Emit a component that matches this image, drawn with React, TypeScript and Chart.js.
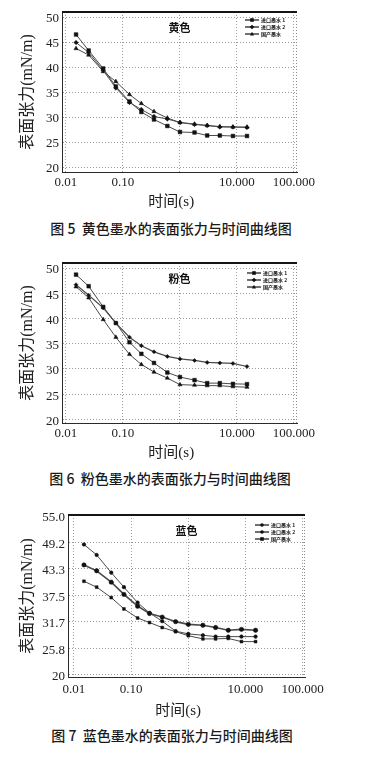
import React, { useEffect, useRef } from "react";
import { Chart, registerables } from "chart.js";

Chart.register(...registerables);

// ---------- data ----------
const times = [0.015, 0.025, 0.045, 0.075, 0.13, 0.21, 0.35, 0.6, 1.0, 1.8, 3.0, 5.0, 8.5, 15];
const seriesNames = ["进口墨水 1", "进口墨水 2", "国产墨水"];

const xTickValues = [0.01, 0.1, 1, 10, 100];
const xTickLabels = ["0.01", "0.10", "", "10.000", "100.000"];

const yellowInk1 = [46.5, 43.3, 39.7, 36.1, 33.1, 31.0, 29.5, 28.2, 27.0, 26.9, 26.3, 26.3, 26.2, 26.2];
const yellowInk2 = [44.9, 42.9, 39.3, 35.8, 32.9, 31.5, 30.1, 29.6, 28.9, 28.5, 28.3, 28.0, 28.0, 27.9];
const yellowDomestic = [43.7, 42.4, 39.1, 37.1, 34.5, 32.7, 31.1, 29.8, 28.9, 28.6, 28.3, 28.1, 28.0, 28.0];

const pinkInk1 = [48.7, 46.4, 42.3, 39.1, 35.3, 33.0, 31.2, 29.3, 28.4, 27.8, 27.2, 27.2, 27.05, 27.0];
const pinkInk2 = [46.7, 44.6, 42.1, 39.1, 36.3, 34.6, 33.4, 32.5, 32.0, 31.7, 31.3, 31.2, 31.1, 30.5];
const pinkDomestic = [46.3, 44.1, 39.8, 36.3, 32.9, 30.9, 29.4, 28.2, 26.9, 26.8, 26.7, 26.7, 26.5, 26.4];

const blueInk1 = [48.7, 46.4, 42.5, 39.3, 35.9, 33.6, 31.8, 29.6, 29.0, 28.7, 28.4, 28.4, 28.4, 28.4];
const blueInk2 = [44.2, 42.9, 40.4, 37.7, 35.1, 33.5, 32.7, 31.7, 31.1, 30.9, 30.4, 29.8, 30.0, 29.8];
const blueDomestic = [40.6, 39.3, 37.0, 34.5, 32.5, 31.5, 30.4, 29.5, 28.6, 27.9, 27.9, 28.0, 27.3, 27.3];

const yTicksStd = [20, 25, 30, 35, 40, 45, 50];
const yTickLabelsStd = ["20", "25", "30", "35", "40", "45", "50"];
const yTicksBlue = [20, 25.8333, 31.6667, 37.5, 43.3333, 49.1667, 55];
const yTickLabelsBlue = ["20", "25.8", "31.7", "37.5", "43.3", "49.2", "55.0"];

const yTitle = "表面张力(mN/m)";
const xTitle = "时间(s)";

// ---------- figure layouts ----------
const SERIF = "'Liberation Serif', 'Noto Sans CJK SC', serif";
const CJK = "'Noto Sans CJK SC', sans-serif";

type Fig = {
  top: number;
  height: number;
  pad: { top: number; right: number; bottom: number; left: number };
  yW: number;
  xH: number;
  xMin: number;
  xMax: number;
  yMin: number;
  yMax: number;
  yTicks: number[];
  yLabels: string[];
  title: string;
  series: number[][];
  styles: string[];
  radii: number[];
  widths: number[];
  xTickPad: number;
  xTitleY: number;
  legendTop: number;
  legendRight: number;
  caption: string;
  captionY: number;
  captionW: number;
};

const figs: Fig[] = [
  {
    top: 0, height: 215,
    pad: { top: 12, right: 69, bottom: 3, left: 0 },
    yW: 62, xH: 40,
    xMin: 0.00851, xMax: 113, yMin: 19, yMax: 51,
    yTicks: yTicksStd, yLabels: yTickLabelsStd,
    title: "黄色",
    series: [yellowInk1, yellowInk2, yellowDomestic],
    styles: ["rect", "rectRot", "triangle"],
    radii: [2.6, 2.2, 2.4],
    widths: [1, 1, 1],
    xTickPad: 3, xTitleY: 202,
    legendTop: 8, legendRight: 52,
    caption: "图 5  黄色墨水的表面张力与时间曲线图",
    captionY: 228, captionW: 342,
  },
  {
    top: 250, height: 215,
    pad: { top: 13, right: 69, bottom: 2, left: 0 },
    yW: 62, xH: 40,
    xMin: 0.00851, xMax: 113, yMin: 19.3, yMax: 51,
    yTicks: yTicksStd, yLabels: yTickLabelsStd,
    title: "粉色",
    series: [pinkInk1, pinkInk2, pinkDomestic],
    styles: ["rect", "rectRot", "triangle"],
    radii: [2.6, 2.0, 2.4],
    widths: [1, 1.2, 1],
    xTickPad: 3, xTitleY: 203,
    legendTop: 10, legendRight: 50,
    caption: "图 6  粉色墨水的表面张力与时间曲线图",
    captionY: 228, captionW: 340,
  },
  {
    top: 500, height: 222,
    pad: { top: 15, right: 61, bottom: 0, left: 0 },
    yW: 68, xH: 45,
    xMin: 0.00789, xMax: 109.7, yMin: 19.5, yMax: 55.2,
    yTicks: yTicksBlue, yLabels: yTickLabelsBlue,
    title: "蓝色",
    series: [blueInk1, blueInk2, blueDomestic],
    styles: ["circle", "circle", "rect"],
    radii: [1.8, 2.2, 2.0],
    widths: [1, 1.6, 1],
    xTickPad: 5, xTitleY: 211,
    legendTop: 10, legendRight: 50,
    caption: "图 7  蓝色墨水的表面张力与时间曲线图",
    captionY: 235, captionW: 344,
  },
];

// ---------- helpers ----------
function drawMarker(ctx: CanvasRenderingContext2D, style: string, x: number, y: number, r: number) {
  ctx.beginPath();
  if (style === "rect") {
    ctx.rect(x - r, y - r, 2 * r, 2 * r);
  } else if (style === "rectRot") {
    ctx.moveTo(x, y - r * 1.3);
    ctx.lineTo(x + r * 1.3, y);
    ctx.lineTo(x, y + r * 1.3);
    ctx.lineTo(x - r * 1.3, y);
    ctx.closePath();
  } else if (style === "triangle") {
    ctx.moveTo(x, y - r * 1.2);
    ctx.lineTo(x + r * 1.1, y + r * 0.8);
    ctx.lineTo(x - r * 1.1, y + r * 0.8);
    ctx.closePath();
  } else {
    ctx.arc(x, y, r, 0, Math.PI * 2);
  }
  ctx.fill();
}

const decorPlugin = {
  id: "decor",
  afterDraw(chart: any, _args: any, opts: any) {
    const { ctx, chartArea: ca } = chart;
    ctx.save();
    // right dotted frame
    ctx.strokeStyle = "#8a8a8a";
    ctx.lineWidth = 1;
    ctx.setLineDash([1, 2]);
    ctx.beginPath();
    ctx.moveTo(ca.right - 0.5, ca.top);
    ctx.lineTo(ca.right - 0.5, ca.bottom);
    ctx.stroke();
    ctx.setLineDash([]);
    // top frame
    ctx.strokeStyle = "#151515";
    ctx.lineWidth = 2;
    ctx.beginPath();
    ctx.moveTo(ca.left, ca.top);
    ctx.lineTo(ca.right, ca.top);
    ctx.stroke();
    // inner title
    ctx.fillStyle = "#111";
    ctx.textAlign = "center";
    ctx.textBaseline = "middle";
    ctx.font = `bold 11px ${CJK}`;
    ctx.fillText(opts.title, (ca.left + ca.right) / 2, ca.top + 15.5);
    // x axis title
    ctx.fillStyle = "#222";
    ctx.font = `15px ${SERIF}`;
    ctx.fillText(opts.xTitle, ca.left + (ca.right - ca.left) * 0.465, opts.xTitleY);
    // legend
    const ds = chart.data.datasets;
    ds.forEach((d: any, i: number) => {
      const y = ca.top + opts.legendTop + i * 7;
      const x0 = ca.right - opts.legendRight;
      ctx.strokeStyle = "#111";
      ctx.lineWidth = 1.2;
      ctx.beginPath();
      ctx.moveTo(x0, y);
      ctx.lineTo(x0 + 14, y);
      ctx.stroke();
      ctx.fillStyle = "#111";
      drawMarker(ctx, d.pointStyle, x0 + 7, y, 1.8);
      ctx.font = `bold 5px ${CJK}`;
      ctx.textAlign = "left";
      ctx.textBaseline = "middle";
      ctx.fillText(d.label, x0 + 16, y);
    });
    ctx.restore();
  },
};

function FigureChart({ fig }: { fig: Fig }) {
  const ref = useRef<HTMLCanvasElement | null>(null);
  useEffect(() => {
    if (!ref.current) return;
    const datasets = fig.series.map((vals, si) => ({
      label: seriesNames[si],
      data: times.map((t, i) => ({ x: t, y: vals[i] })),
      borderColor: "#4a4a4a",
      borderWidth: fig.widths[si],
      pointStyle: fig.styles[si],
      pointRadius: fig.radii[si],
      pointBackgroundColor: "#111",
      pointBorderColor: "#111",
      pointBorderWidth: 0.5,
      tension: 0,
      fill: false,
    }));
    const gridCommon = { color: "#9a9a9a", lineWidth: 1, drawTicks: false };
    const chart = new Chart(ref.current, {
      type: "line",
      data: { datasets },
      plugins: [decorPlugin],
      options: {
        animation: false,
        responsive: false,
        maintainAspectRatio: false,
        devicePixelRatio: 1,
        layout: { padding: fig.pad },
        plugins: {
          legend: { display: false },
          tooltip: { enabled: false },
          decor: {
            title: fig.title,
            xTitle,
            xTitleY: fig.xTitleY,
            legendTop: fig.legendTop,
            legendRight: fig.legendRight,
          },
        } as any,
        scales: {
          x: {
            type: "logarithmic",
            min: fig.xMin,
            max: fig.xMax,
            afterBuildTicks: (s: any) => {
              s.ticks = xTickValues.map((v) => ({ value: v }));
            },
            afterFit: (s: any) => {
              s.height = fig.xH;
            },
            ticks: {
              autoSkip: false,
              maxRotation: 0,
              padding: fig.xTickPad,
              color: "#222",
              font: { family: SERIF, size: 13 },
              callback: (_v: any, i: number) => xTickLabels[i],
            },
            grid: gridCommon,
            border: { display: true, color: "#2a2a2a", width: 1, dash: [1, 2] },
          },
          y: {
            type: "linear",
            min: fig.yMin,
            max: fig.yMax,
            afterBuildTicks: (s: any) => {
              s.ticks = fig.yTicks.map((v) => ({ value: v }));
            },
            afterFit: (s: any) => {
              s.width = fig.yW;
            },
            ticks: {
              autoSkip: false,
              padding: 3,
              labelOffset: 2,
              color: "#222",
              font: { family: SERIF, size: 13 },
              callback: (_v: any, i: number) => fig.yLabels[i],
            },
            grid: gridCommon,
            border: { display: true, color: "#2a2a2a", width: 1, dash: [1, 2] },
            title: {
              display: true,
              text: yTitle,
              color: "#222",
              font: { family: SERIF, size: 16 },
              padding: { top: 18, bottom: 0 },
            },
          },
        },
      } as any,
    });
    return () => chart.destroy();
  }, [fig]);
  return (
    <canvas
      ref={ref}
      width={366}
      height={fig.height}
      style={{ position: "absolute", left: 0, top: fig.top, width: 366, height: fig.height, display: "block" }}
    />
  );
}

export default function App() {
  return (
    <div
      style={{
        position: "absolute",
        left: 0,
        top: 0,
        width: 366,
        height: 766,
        background: "#ffffff",
        overflow: "hidden",
      }}
    >
      {figs.map((fig, i) => (
        <React.Fragment key={i}>
          <FigureChart fig={fig} />
          <div
            style={{
              position: "absolute",
              left: 0,
              top: fig.top + fig.captionY - 10,
              width: fig.captionW,
              height: 20,
              lineHeight: "20px",
              textAlign: "center",
              fontFamily: CJK,
              fontSize: 14,
              fontWeight: 500,
              color: "#1a1a1a",
              whiteSpace: "pre",
            }}
          >
            {fig.caption}
          </div>
        </React.Fragment>
      ))}
    </div>
  );
}
